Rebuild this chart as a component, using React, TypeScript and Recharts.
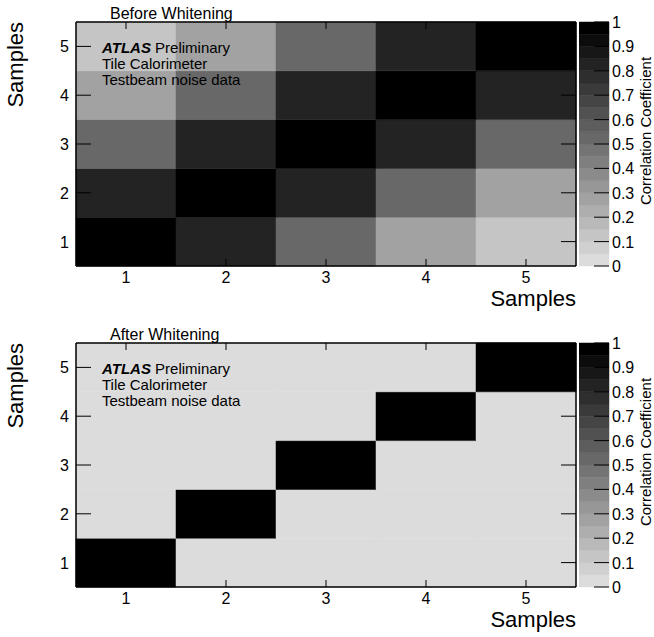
import { ComposedChart, XAxis, YAxis, ReferenceArea, Scatter } from "recharts"

const FONT = "'Liberation Sans', Arial, Helvetica, sans-serif"

// sample index along both axes
const samples = [1, 2, 3, 4, 5]

// correlation matrix, row = sample on y axis, column = sample on x axis
const beforeWhitening = [
  [1.0, 0.82, 0.52, 0.27, 0.12],
  [0.82, 1.0, 0.82, 0.52, 0.27],
  [0.52, 0.82, 1.0, 0.82, 0.52],
  [0.27, 0.52, 0.82, 1.0, 0.82],
  [0.12, 0.27, 0.52, 0.82, 1.0],
]

const afterWhitening = [
  [1.0, 0.01, 0.01, 0.0, 0.01],
  [0.01, 1.0, 0.01, 0.01, 0.0],
  [0.01, 0.01, 1.0, 0.01, 0.01],
  [0.0, 0.01, 0.01, 1.0, 0.01],
  [0.01, 0.0, 0.01, 0.01, 1.0],
]

const zTicks = [0, 0.1, 0.2, 0.3, 0.4, 0.5, 0.6, 0.7, 0.8, 0.9, 1]
const nBins = 20

const binColor = (i: number) => {
  const g = Math.round(220 - (i * 220) / (nBins - 1))
  return `rgb(${g},${g},${g})`
}

const valueColor = (v: number) => {
  const i = Math.max(0, Math.min(nBins - 1, Math.floor(v * nBins)))
  return binColor(i)
}

const W = 654
const H = 316
// plot area is 76..576 x 22..266
const M = { top: 22, left: 76, right: 78, bottom: 50 }
// same area when the 4 frame axes take 1px each
const MA = { top: 21, left: 75, right: 77, bottom: 49 }
const TICK_FS = 16

const BottomTick = (props: any) => {
  const { x, y, payload } = props
  return (
    <g>
      <line x1={x} y1={y} x2={x} y2={y - 7} stroke="#000" />
      <text x={x} y={y + 17} textAnchor="middle" fontSize={TICK_FS} fontFamily={FONT} fill="#000">
        {payload.value}
      </text>
    </g>
  )
}

const TopTick = (props: any) => {
  const { x, y } = props
  return <line x1={x} y1={y} x2={x} y2={y + 7} stroke="#000" />
}

const LeftTick = (props: any) => {
  const { x, y, payload } = props
  return (
    <g>
      <line x1={x} y1={y} x2={x + 15} y2={y} stroke="#000" />
      <text x={x - 7} y={y + 6} textAnchor="end" fontSize={TICK_FS} fontFamily={FONT} fill="#000">
        {payload.value}
      </text>
    </g>
  )
}

const RightTick = (props: any) => {
  const { x, y } = props
  return <line x1={x} y1={y} x2={x - 15} y2={y} stroke="#000" />
}

const ZTick = (props: any) => {
  const { x, y, payload } = props
  return (
    <g>
      <line x1={x} y1={y} x2={x - 15} y2={y} stroke="#000" />
      <text x={x + 3} y={y + 6} textAnchor="start" fontSize={TICK_FS} fontFamily={FONT} fill="#000">
        {payload.value}
      </text>
    </g>
  )
}

const NoShape = () => <g />

const layer = { position: "absolute" as const, left: 0, top: 0 }

function Panel({ title, matrix, top }: { title: string; matrix: number[][]; top: number }) {
  const cells = matrix.flatMap((row, r) => row.map((v, c) => ({ x: samples[c], y: samples[r], v })))
  const zPoints = zTicks.map((z) => ({ x: 0.5, y: z }))
  return (
    <div style={{ position: "absolute", left: 0, top, width: W, height: H }}>
      {/* heatmap cells */}
      <ComposedChart width={W} height={H} margin={M} style={layer}>
        {cells.map((d) => (
          <ReferenceArea
            key={`${d.x}-${d.y}`}
            x1={d.x - 0.5}
            x2={d.x + 0.5}
            y1={d.y - 0.5}
            y2={d.y + 0.5}
            fill={valueColor(d.v)}
            fillOpacity={1}
            stroke={valueColor(d.v)}
            strokeWidth={0.5}
          />
        ))}
        <Scatter data={cells} dataKey="y" shape={<NoShape />} isAnimationActive={false} />
        <XAxis type="number" dataKey="x" domain={[0.5, 5.5]} hide allowDataOverflow />
        <YAxis type="number" dataKey="y" domain={[0.5, 5.5]} hide allowDataOverflow />
      </ComposedChart>

      {/* frame and ticks on top of the cells */}
      <ComposedChart width={W} height={H} margin={MA} style={layer}>
        <Scatter data={cells} dataKey="y" shape={<NoShape />} isAnimationActive={false} />
        <Scatter data={cells} dataKey="y" xAxisId="top" yAxisId="right" shape={<NoShape />} isAnimationActive={false} />
        <XAxis
          type="number"
          dataKey="x"
          domain={[0.5, 5.5]}
          ticks={samples}
          interval={0}
          height={1}
          tickSize={0}
          tickMargin={0}
          tick={<BottomTick />}
          axisLine={{ stroke: "#000", strokeWidth: 1.5 }}
          allowDataOverflow
        />
        <XAxis
          xAxisId="top"
          orientation="top"
          type="number"
          dataKey="x"
          domain={[0.5, 5.5]}
          ticks={samples}
          interval={0}
          height={1}
          tickSize={0}
          tickMargin={0}
          tick={<TopTick />}
          axisLine={{ stroke: "#000", strokeWidth: 1.5 }}
          allowDataOverflow
        />
        <YAxis
          type="number"
          dataKey="y"
          domain={[0.5, 5.5]}
          ticks={samples}
          interval={0}
          width={1}
          tickSize={0}
          tickMargin={0}
          tick={<LeftTick />}
          axisLine={{ stroke: "#000", strokeWidth: 1.5 }}
          allowDataOverflow
        />
        <YAxis
          yAxisId="right"
          orientation="right"
          type="number"
          dataKey="y"
          domain={[0.5, 5.5]}
          ticks={samples}
          interval={0}
          width={1}
          tickSize={0}
          tickMargin={0}
          tick={<RightTick />}
          axisLine={{ stroke: "#000", strokeWidth: 1.5 }}
          allowDataOverflow
        />
      </ComposedChart>

      {/* colour scale */}
      <ComposedChart
        width={75}
        height={H}
        margin={{ top: M.top, bottom: M.bottom, left: 0, right: 45 }}
        style={{ position: "absolute", left: 579, top: 0 }}
      >
        {Array.from({ length: nBins }, (_, i) => (
          <ReferenceArea
            key={i}
            x1={0}
            x2={1}
            y1={i / nBins}
            y2={(i + 1) / nBins}
            fill={binColor(i)}
            fillOpacity={1}
            stroke={binColor(i)}
            strokeWidth={0.5}
          />
        ))}
        <Scatter data={zPoints} dataKey="y" shape={<NoShape />} isAnimationActive={false} />
        <XAxis type="number" dataKey="x" domain={[0, 1]} hide allowDataOverflow />
        <YAxis type="number" dataKey="y" domain={[0, 1]} hide allowDataOverflow />
      </ComposedChart>
      <ComposedChart
        width={75}
        height={H}
        margin={{ top: M.top, bottom: M.bottom, left: 0, right: 44 }}
        style={{ position: "absolute", left: 579, top: 0 }}
      >
        <Scatter data={zPoints} dataKey="y" shape={<NoShape />} isAnimationActive={false} />
        <XAxis type="number" dataKey="x" domain={[0, 1]} hide allowDataOverflow />
        <YAxis
          orientation="right"
          type="number"
          dataKey="y"
          domain={[0, 1]}
          ticks={zTicks}
          interval={0}
          width={1}
          tickSize={0}
          tickMargin={0}
          tick={<ZTick />}
          axisLine={false}
          allowDataOverflow
        />
      </ComposedChart>

      <svg width={W} height={H} style={{ ...layer, pointerEvents: "none" }}>
        <g fontFamily={FONT} fill="#000">
          <text x={110} y={19} fontSize={16}>
            {title}
          </text>
          <text x={102} y={53} fontSize={15}>
            <tspan fontWeight="bold" fontStyle="italic">
              ATLAS
            </tspan>
            <tspan> Preliminary</tspan>
          </text>
          <text x={102} y={69} fontSize={15}>
            Tile Calorimeter
          </text>
          <text x={102} y={85} fontSize={15}>
            Testbeam noise data
          </text>
          <text x={23} y={22} fontSize={22} textAnchor="end" transform="rotate(-90, 23, 22)">
            Samples
          </text>
          <text x={576} y={306} fontSize={22} textAnchor="end">
            Samples
          </text>
          <text x={651} y={131} fontSize={15} textAnchor="middle" transform="rotate(-90, 651, 131)">
            Correlation Coefficient
          </text>
        </g>
      </svg>
    </div>
  )
}

export default function App() {
  return (
    <div style={{ position: "absolute", left: 0, top: 0, width: W, height: 637, background: "#fff" }}>
      <Panel title="Before Whitening" matrix={beforeWhitening} top={0} />
      <Panel title="After Whitening" matrix={afterWhitening} top={321} />
    </div>
  )
}
